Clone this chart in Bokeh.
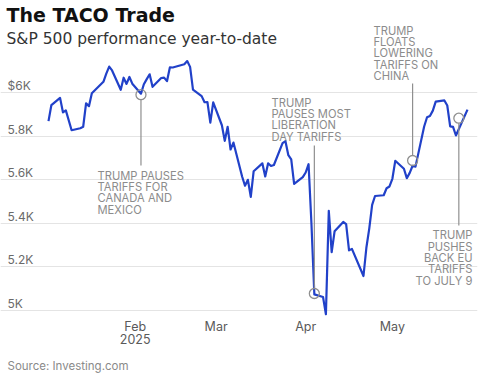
from datetime import datetime, timedelta
import pandas as pd
from bokeh.plotting import figure
from bokeh.models import Range1d, Label, Grid, FixedTicker, ColumnDataSource
from bokeh.embed import file_html
from bokeh.resources import INLINE

# ---- data: S&P 500 daily close, 2025 year-to-date ----
dates = [
    "2025-01-02", "2025-01-03", "2025-01-06", "2025-01-07", "2025-01-08", "2025-01-10",
    "2025-01-13", "2025-01-14", "2025-01-15", "2025-01-16", "2025-01-17", "2025-01-21",
    "2025-01-22", "2025-01-23", "2025-01-24", "2025-01-27", "2025-01-28", "2025-01-29",
    "2025-01-30", "2025-01-31",
    "2025-02-03", "2025-02-04", "2025-02-05", "2025-02-06", "2025-02-07", "2025-02-10",
    "2025-02-11", "2025-02-12", "2025-02-13", "2025-02-14", "2025-02-18", "2025-02-19",
    "2025-02-20", "2025-02-21", "2025-02-24", "2025-02-25", "2025-02-26", "2025-02-27",
    "2025-02-28",
    "2025-03-03", "2025-03-04", "2025-03-05", "2025-03-06", "2025-03-07", "2025-03-10",
    "2025-03-11", "2025-03-12", "2025-03-13", "2025-03-14", "2025-03-17", "2025-03-18",
    "2025-03-19", "2025-03-20", "2025-03-21", "2025-03-24", "2025-03-25", "2025-03-26",
    "2025-03-27", "2025-03-28", "2025-03-31",
    "2025-04-01", "2025-04-02", "2025-04-03", "2025-04-04", "2025-04-07", "2025-04-08",
    "2025-04-09", "2025-04-10", "2025-04-11", "2025-04-14", "2025-04-15", "2025-04-16",
    "2025-04-17", "2025-04-21", "2025-04-22", "2025-04-23", "2025-04-24", "2025-04-25",
    "2025-04-28", "2025-04-29", "2025-04-30",
    "2025-05-01", "2025-05-02", "2025-05-05", "2025-05-06", "2025-05-07", "2025-05-08",
    "2025-05-09", "2025-05-12", "2025-05-13", "2025-05-14", "2025-05-15", "2025-05-16",
    "2025-05-19", "2025-05-20", "2025-05-21", "2025-05-22", "2025-05-23", "2025-05-27",
]
closes = [
    5868.55, 5942.47, 5975.38, 5909.03, 5918.25, 5827.04,
    5836.22, 5842.91, 5949.91, 5937.34, 5996.66, 6049.24,
    6086.37, 6118.71, 6101.24, 6012.28, 6067.70, 6039.31,
    6071.17, 6040.53,
    5994.57, 6037.88, 6061.48, 6083.57, 6025.99, 6066.44,
    6068.50, 6051.97, 6115.07, 6114.63, 6129.58, 6144.15,
    6117.52, 6013.13, 5983.25, 5955.25, 5956.06, 5861.57,
    5954.50,
    5849.72, 5778.15, 5842.63, 5738.52, 5770.20, 5614.56,
    5572.07, 5599.30, 5521.52, 5638.94, 5675.12, 5614.66,
    5675.29, 5662.89, 5667.56, 5767.57, 5776.65, 5712.20,
    5693.31, 5580.94, 5611.85,
    5633.07, 5670.97, 5396.52, 5074.08, 5062.25, 4982.77,
    5456.90, 5268.05, 5363.36, 5405.97, 5396.63, 5275.70,
    5282.70, 5158.20, 5287.76, 5375.86, 5484.77, 5525.21,
    5528.75, 5560.83, 5569.06,
    5604.14, 5686.67, 5650.38, 5606.91, 5631.28, 5663.94,
    5659.91, 5844.19, 5886.55, 5892.58, 5916.93, 5958.38,
    5963.60, 5940.46, 5844.61, 5842.01, 5802.82, 5921.54,
]

y_ticks = [5000, 5200, 5400, 5600, 5800, 6000]
y_tick_labels = ["5K", "5.2K", "5.4K", "5.6K", "5.8K", "$6K"]
month_ticks = ["2025-02-01", "2025-03-01", "2025-04-01", "2025-05-01"]
month_labels = ["Feb", "Mar", "Apr", "May"]
year_label = "2025"

# annotations: marked date, marked value, where the leader line ends
ann_dates = ["2025-02-03", "2025-04-04", "2025-05-08", "2025-05-24"]
ann_values = [5990, 5078, 5688, 5882]
ann_line_end = [5665, 5757, 6041, 5390]
ann_texts = [
    ["TRUMP PAUSES", "TARIFFS FOR", "CANADA AND", "MEXICO"],
    ["TRUMP", "PAUSES MOST", "LIBERATION", "DAY TARIFFS"],
    ["TRUMP", "FLOATS", "LOWERING", "TARIFFS ON", "CHINA"],
    ["TRUMP", "PUSHES", "BACK EU", "TARIFFS", "TO JULY 9"],
]

# ---- layout constants (pixels) ----
W, H = 489, 376
FRAME_R = 477
PX_PER_DAY = (467 - 48) / 145.0
PX_PER_UNIT = (310 - 92) / 1000.0
FONT = "Inter"
HEAD_FONT = "DejaVu Sans"
BASE_FIX = 0.3  # em shift to put text baseline where wanted

t0 = datetime(2025, 1, 2)
x_start = t0 - timedelta(days=48 / PX_PER_DAY)
x_end = t0 + timedelta(days=(FRAME_R - 48) / PX_PER_DAY)
y_top = 6000 + 92 / PX_PER_UNIT
y_bot = 5000 - (H - 310) / PX_PER_UNIT

p = figure(width=W, height=H, x_axis_type="datetime",
           x_axis_location=None, y_axis_location=None,
           x_range=Range1d(x_start, x_end), y_range=Range1d(y_bot, y_top),
           toolbar_location=None, output_backend="svg",
           min_border=0, min_border_right=W - FRAME_R,
           outline_line_color=None, background_fill_color="white",
           border_fill_color="white")
p.center = []
p.add_layout(Grid(dimension=1, ticker=FixedTicker(ticks=y_ticks),
                  grid_line_color="#e4e4e4", grid_line_width=1))

src = ColumnDataSource(dict(date=pd.to_datetime(dates), close=closes))
p.line(x="date", y="close", source=src, line_color="#2141c9",
       line_width=2.2, line_join="round")

# leader lines + hollow markers
r_units = 5 / PX_PER_UNIT
a_dates = pd.to_datetime(ann_dates)
starts = [v + (r_units if e > v else -r_units) for v, e in zip(ann_values, ann_line_end)]
p.segment(x0=a_dates, y0=starts, x1=a_dates, y1=ann_line_end,
          line_color="#8f8f8f", line_width=1.2)
p.scatter(x=a_dates, y=ann_values, size=10, fill_color=None,
          line_color="#8f8f8f", line_width=1.3)


def sy(img_y, fs):
    return H - (img_y - BASE_FIX * fs)


# annotation texts (image pixel anchors)
ANN_FS = 11.2
ann_anchor = [(97, 178.5, "left"), (271, 105.5, "left"),
              (373, 33.5, "left"), (472, 238, "right")]
STEP = 11.4
for lines, (ax, ay, al) in zip(ann_texts, ann_anchor):
    for i, t in enumerate(lines):
        p.add_layout(Label(x=ax, y=sy(ay + i * STEP, ANN_FS), x_units="screen", y_units="screen",
                           text=t, text_font=FONT, text_font_size=f"{ANN_FS}px",
                           text_color="#8c8c8c", text_align=al,
                           text_baseline="alphabetic"))

# y tick labels (above gridlines, left)
YT_FS = 12
for v, t in zip(y_ticks, y_tick_labels):
    p.add_layout(Label(x=7, y=v + (3.5 + BASE_FIX * YT_FS) / PX_PER_UNIT,
                       x_units="screen", y_units="data",
                       text=t, text_font=FONT, text_font_size=f"{YT_FS}px",
                       text_color="#6a6a6a", text_align="left",
                       text_baseline="alphabetic"))

# x tick labels
XT_FS = 12.5
m_ms = [pd.Timestamp(d).value / 1e6 for d in month_ticks]
for m, t in zip(m_ms, month_labels):
    p.add_layout(Label(x=m, y=sy(330, XT_FS), x_units="data", y_units="screen",
                       text=t, text_font=FONT, text_font_size=f"{XT_FS}px",
                       text_color="#5a5a5a", text_align="center",
                       text_baseline="alphabetic"))
p.add_layout(Label(x=m_ms[0], y=sy(342, XT_FS), x_units="data", y_units="screen",
                   text=year_label, text_font=FONT, text_font_size=f"{XT_FS}px",
                   text_color="#5a5a5a", text_align="center",
                   text_baseline="alphabetic"))

# title, subtitle, source
p.add_layout(Label(x=6, y=sy(20.5, 19), x_units="screen", y_units="screen",
                   text="The TACO Trade", text_font=HEAD_FONT, text_font_size="19px",
                   text_font_style="bold", text_color="#111111",
                   text_baseline="alphabetic"))
p.add_layout(Label(x=6, y=sy(43.5, 15.5), x_units="screen", y_units="screen",
                   text="S&P 500 performance year-to-date", text_font=HEAD_FONT,
                   text_font_size="15.5px", text_color="#333333",
                   text_baseline="alphabetic"))
p.add_layout(Label(x=7, y=sy(369, 11.5), x_units="screen", y_units="screen",
                   text="Source: Investing.com", text_font=FONT,
                   text_font_size="11.5px", text_color="#8a8a8a",
                   text_baseline="alphabetic"))

open("out.html", "w").write(file_html(p, INLINE))
